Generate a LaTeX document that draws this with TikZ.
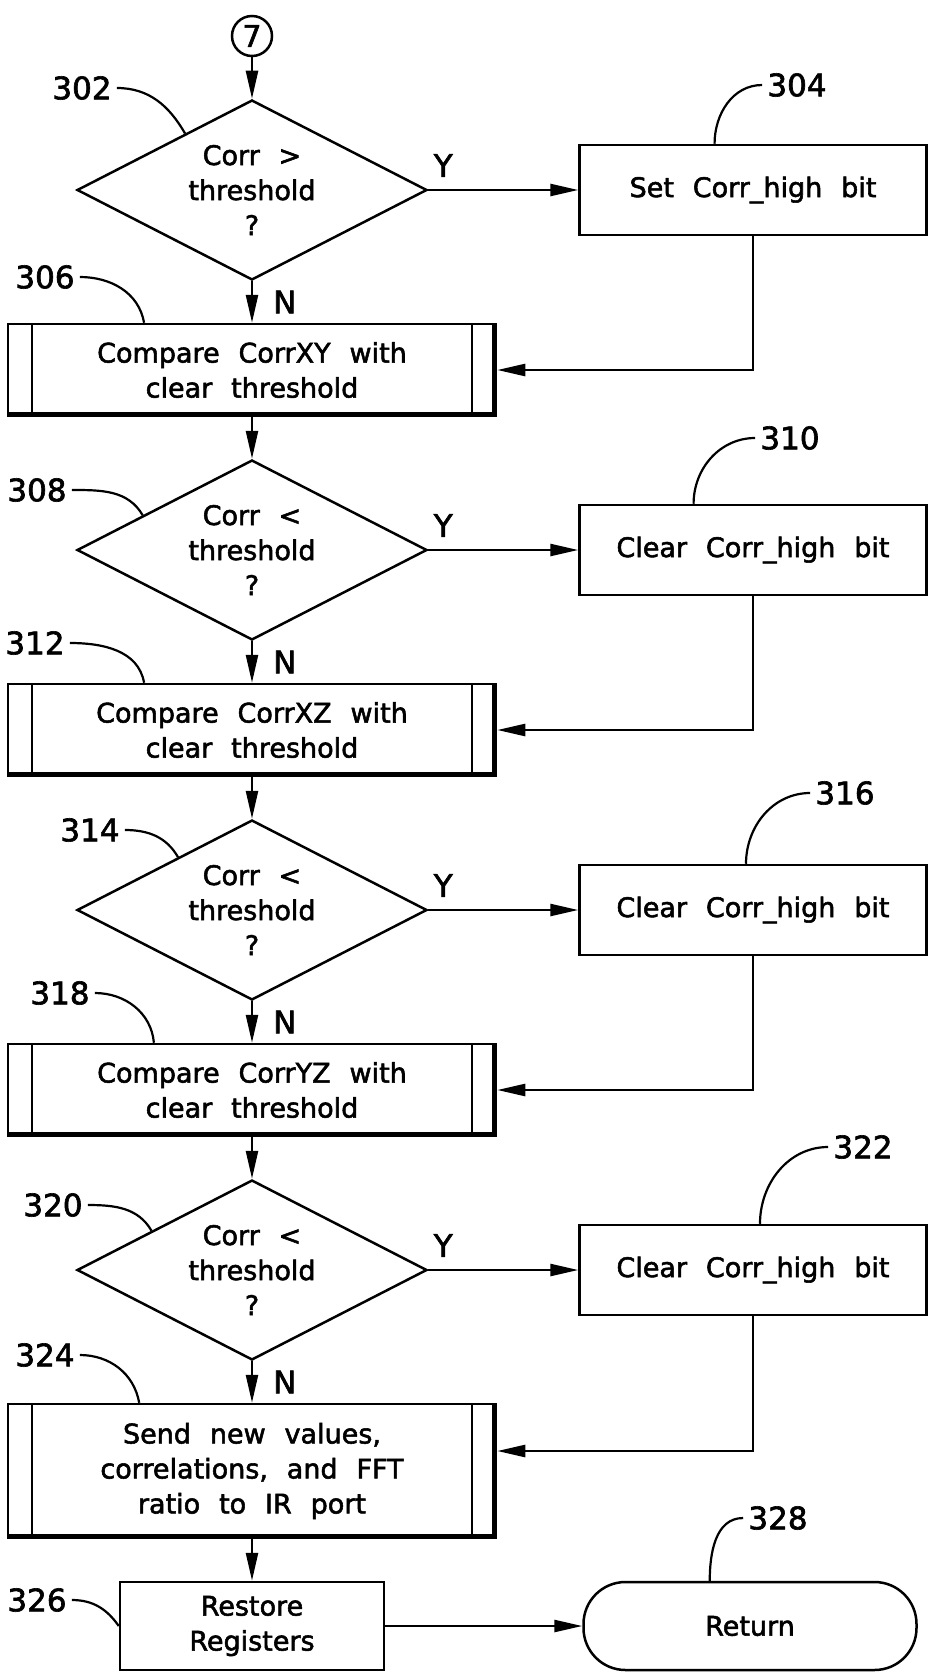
\documentclass[tikz,border=0pt]{standalone}
\usepackage{fontspec}
\setmainfont[WordSpace=2.2, FakeBold=2]{DejaVu Sans}
\usetikzlibrary{arrows.meta,positioning,calc,shapes.geometric}

\begin{document}
\begin{tikzpicture}[x=1pt, y=1pt,
      >={Triangle[length=28pt,width=12pt]}, node distance=41.5pt, line width=2.5pt,
      txt/.style={font=\fontsize{27}{35}\selectfont, align=center},
      dec/.style={txt, draw, diamond, aspect=1.94, minimum width=350pt, minimum height=180pt, inner sep=0pt},
      blk/.style={txt, draw, minimum width=347pt, minimum height=90pt},
      sub/.style={txt, draw, minimum width=488pt, minimum height=92pt,
        path picture={
          \draw ([xshift=24pt]path picture bounding box.north west) -- ([xshift=24pt]path picture bounding box.south west);
          \draw ([xshift=-24pt]path picture bounding box.north east) -- ([xshift=-24pt]path picture bounding box.south east);
          \draw[line width=8pt] (path picture bounding box.north east) -- (path picture bounding box.south east) -- (path picture bounding box.south west);}},
      term/.style={txt, draw, rounded corners=42pt, minimum width=333pt, minimum height=88pt},
      num/.style={font=\fontsize{31}{35}\selectfont, inner sep=4pt},
      yn/.style={font=\fontsize{31}{35}\selectfont, inner sep=0pt},
      lead/.style={line width=2.2pt}]
    \useasboundingbox (0,0) rectangle (930,-1675);
    % main column
    \node[circle, draw, minimum size=40pt, inner sep=0pt, font=\fontsize{30}{30}\selectfont] (c7) at (252,-36) {7};
    \node[dec, below=of c7] (d302) {Corr >\\threshold\\?};
    \node[sub, below=of d302] (s306) {Compare CorrXY with\\clear threshold};
    \node[dec, below=of s306] (d308) {Corr <\\threshold\\?};
    \node[sub, below=of d308] (s312) {Compare CorrXZ with\\clear threshold};
    \node[dec, below=of s312] (d314) {Corr <\\threshold\\?};
    \node[sub, below=of d314] (s318) {Compare CorrYZ with\\clear threshold};
    \node[dec, below=of s318] (d320) {Corr <\\threshold\\?};
    \node[sub, below=of d320, minimum height=134pt] (s324) {Send new values,\\correlations, and FFT\\ratio to IR port};
    \node[blk, below=of s324, minimum width=264pt, minimum height=88pt] (rest) {Restore\\Registers};
    % right column
    \node[blk, right=150pt of d302] (b304) {Set Corr\_high bit};
    \node[blk, right=150pt of d308] (b310) {Clear Corr\_high bit};
    \node[blk, right=150pt of d314] (b316) {Clear Corr\_high bit};
    \node[blk, right=150pt of d320] (b322) {Clear Corr\_high bit};
    \node[term, right=197pt of rest] (ret) {Return};
    % reference numerals
    \node[num] (n302) at (82,-88) {302};
    \node[num] (n306) at (45,-277) {306};
    \node[num] (n308) at (37,-490) {308};
    \node[num] (n312) at (35,-643) {312};
    \node[num] (n314) at (90,-830) {314};
    \node[num] (n318) at (60,-993) {318};
    \node[num] (n320) at (53,-1205) {320};
    \node[num] (n324) at (45,-1355) {324};
    \node[num] (n326) at (37,-1600) {326};
    \node[num] (n304) at (797,-85) {304};
    \node[num] (n310) at (790,-438) {310};
    \node[num] (n316) at (845,-793) {316};
    \node[num] (n322) at (863,-1147) {322};
    \node[num] (n328) at (778,-1518) {328};
    \draw[lead] (n302.east) to[out=0,in=120] ($(d302.north)!0.38!(d302.west)$);
    \draw[lead] (n308.east) to[out=0,in=120] ($(d308.north)!0.62!(d308.west)$);
    \draw[lead] (n314.east) to[out=0,in=120] ($(d314.north)!0.42!(d314.west)$);
    \draw[lead] (n320.east) to[out=0,in=120] ($(d320.north)!0.57!(d320.west)$);
    \draw[lead] (n306.east) to[out=0,in=100] ($(s306.north west)!0.28!(s306.north east)$);
    \draw[lead] (n312.east) to[out=0,in=100] ($(s312.north west)!0.28!(s312.north east)$);
    \draw[lead] (n318.east) to[out=0,in=95] ($(s318.north west)!0.30!(s318.north east)$);
    \draw[lead] (n324.east) to[out=0,in=100] ($(s324.north west)!0.27!(s324.north east)$);
    \draw[lead] (n326.east) to[out=0,in=125] (rest.west);
    \draw[lead] (n304.west) to[out=180,in=90] ($(b304.north west)!0.39!(b304.north east)$);
    \draw[lead] (n310.west) to[out=180,in=90] ($(b310.north west)!0.33!(b310.north east)$);
    \draw[lead] (n316.west) to[out=180,in=90] ($(b316.north west)!0.48!(b316.north east)$);
    \draw[lead] (n322.west) to[out=180,in=90] ($(b322.north west)!0.52!(b322.north east)$);
    \draw[lead] (n328.west) to[out=180,in=90] ($(ret.north west)!0.38!(ret.north east)$);
    % flow
    \draw[->] (c7) -- (d302);
    \draw[->] (d302.east) -- node[yn, pos=0.1, above=12pt]{Y} (b304.west);
    \draw[->] (d302) -- node[yn, right=20pt]{N} (s306);
    \draw[->] (b304.south) |- (s306.east);
    \draw[->] (s306) -- (d308);
    \draw[->] (d308.east) -- node[yn, pos=0.1, above=12pt]{Y} (b310.west);
    \draw[->] (d308) -- node[yn, right=20pt]{N} (s312);
    \draw[->] (b310.south) |- (s312.east);
    \draw[->] (s312) -- (d314);
    \draw[->] (d314.east) -- node[yn, pos=0.1, above=12pt]{Y} (b316.west);
    \draw[->] (d314) -- node[yn, right=20pt]{N} (s318);
    \draw[->] (b316.south) |- (s318.east);
    \draw[->] (s318) -- (d320);
    \draw[->] (d320.east) -- node[yn, pos=0.1, above=12pt]{Y} (b322.west);
    \draw[->] (d320) -- node[yn, right=20pt]{N} (s324);
    \draw[->] (b322.south) |- ($(s324.east)+(0,20)$);
    \draw[->] (s324) -- (rest);
    \draw[->] (rest) -- (ret);
  \end{tikzpicture}
\end{document}
